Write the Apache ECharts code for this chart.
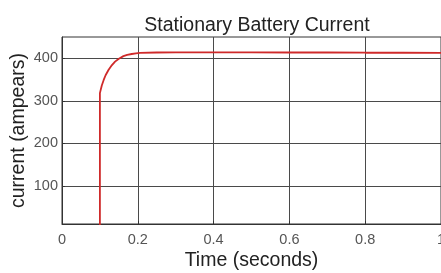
<!DOCTYPE html>
<html><head><meta charset="utf-8">
<script src="https://cdn.jsdelivr.net/npm/echarts@6/dist/echarts.min.js"></script>
<style>html,body{margin:0;padding:0;background:#fff}#c{width:441px;height:273px}</style>
</head><body><div id="c"></div>
<script>
const titleText = "Stationary Battery Current";
const xName = "Time (seconds)";
const yName = "current (ampears)";
const timeS = [0, 0.1, 0.1, 0.105, 0.11, 0.115, 0.123, 0.13, 0.14, 0.15, 0.162, 0.172, 0.184, 0.195, 0.206, 0.25, 0.3, 0.4, 0.5, 0.6, 0.7, 0.8, 0.9, 1.0];
const currentA = [0, 0, 318, 336, 349, 360, 373, 382, 392, 399, 405, 408, 410, 411.5, 412.5, 413.5, 414, 414, 414, 413.5, 413.5, 413, 413, 412.5];
const xTicks = [0, 0.2, 0.4, 0.6, 0.8, 1];
const yTicks = [100, 200, 300, 400];

const chart = echarts.init(document.getElementById('c'), null, {renderer: 'canvas'});
const gridCol = '#4a4a4a';
const ff = 'Liberation Sans, Arial, Helvetica';
chart.setOption({
  backgroundColor: '#fff',
  animation: false,
  title: {text: titleText, left: 252, top: 11, textAlign: 'center',
    textStyle: {fontFamily: ff, fontSize: 19.5, fontWeight: 'normal', color: '#222'}},
  grid: {left: 62, top: 37, width: 379, height: 187, show: true, borderColor: '#333', borderWidth: 1,
    outerBoundsMode: 'none', containLabel: false},
  xAxis: {type: 'value', min: 0, max: 1, interval: 0.2,
    name: xName, nameLocation: 'middle', nameGap: 27, nameMoveOverlap: false,
    nameTextStyle: {fontFamily: ff, fontSize: 19.5, color: '#222'},
    axisLine: {show: true, onZero: false, lineStyle: {color: '#333'}},
    axisTick: {show: true, inside: true, length: 3, lineStyle: {color: '#333'}},
    axisLabel: {fontFamily: ff, fontSize: 14.5, color: '#555', margin: 8,
      showMaxLabel: true, hideOverlap: false, formatter: v => String(+v.toFixed(1))},
    splitLine: {show: true, lineStyle: {color: gridCol, width: 1}}},
  yAxis: {type: 'value', min: 10, max: 450,
    name: yName, nameLocation: 'middle', nameGap: 33, nameRotate: 90, nameMoveOverlap: false,
    nameTextStyle: {fontFamily: ff, fontSize: 19.5, color: '#222'},
    axisLine: {show: true, lineStyle: {color: '#333'}},
    axisTick: {show: true, inside: true, length: 3, customValues: yTicks, lineStyle: {color: '#333'}},
    axisLabel: {fontFamily: ff, fontSize: 14.5, color: '#555', margin: 4, customValues: yTicks},
    splitLine: {show: true, lineStyle: {color: gridCol, width: 1}}},
  series: [{type: 'line', data: timeS.map((t, i) => [t, currentA[i]]), showSymbol: false,
    smooth: false, clip: true, lineStyle: {color: '#cf2a2a', width: 1.8}}]
});
</script></body></html>
